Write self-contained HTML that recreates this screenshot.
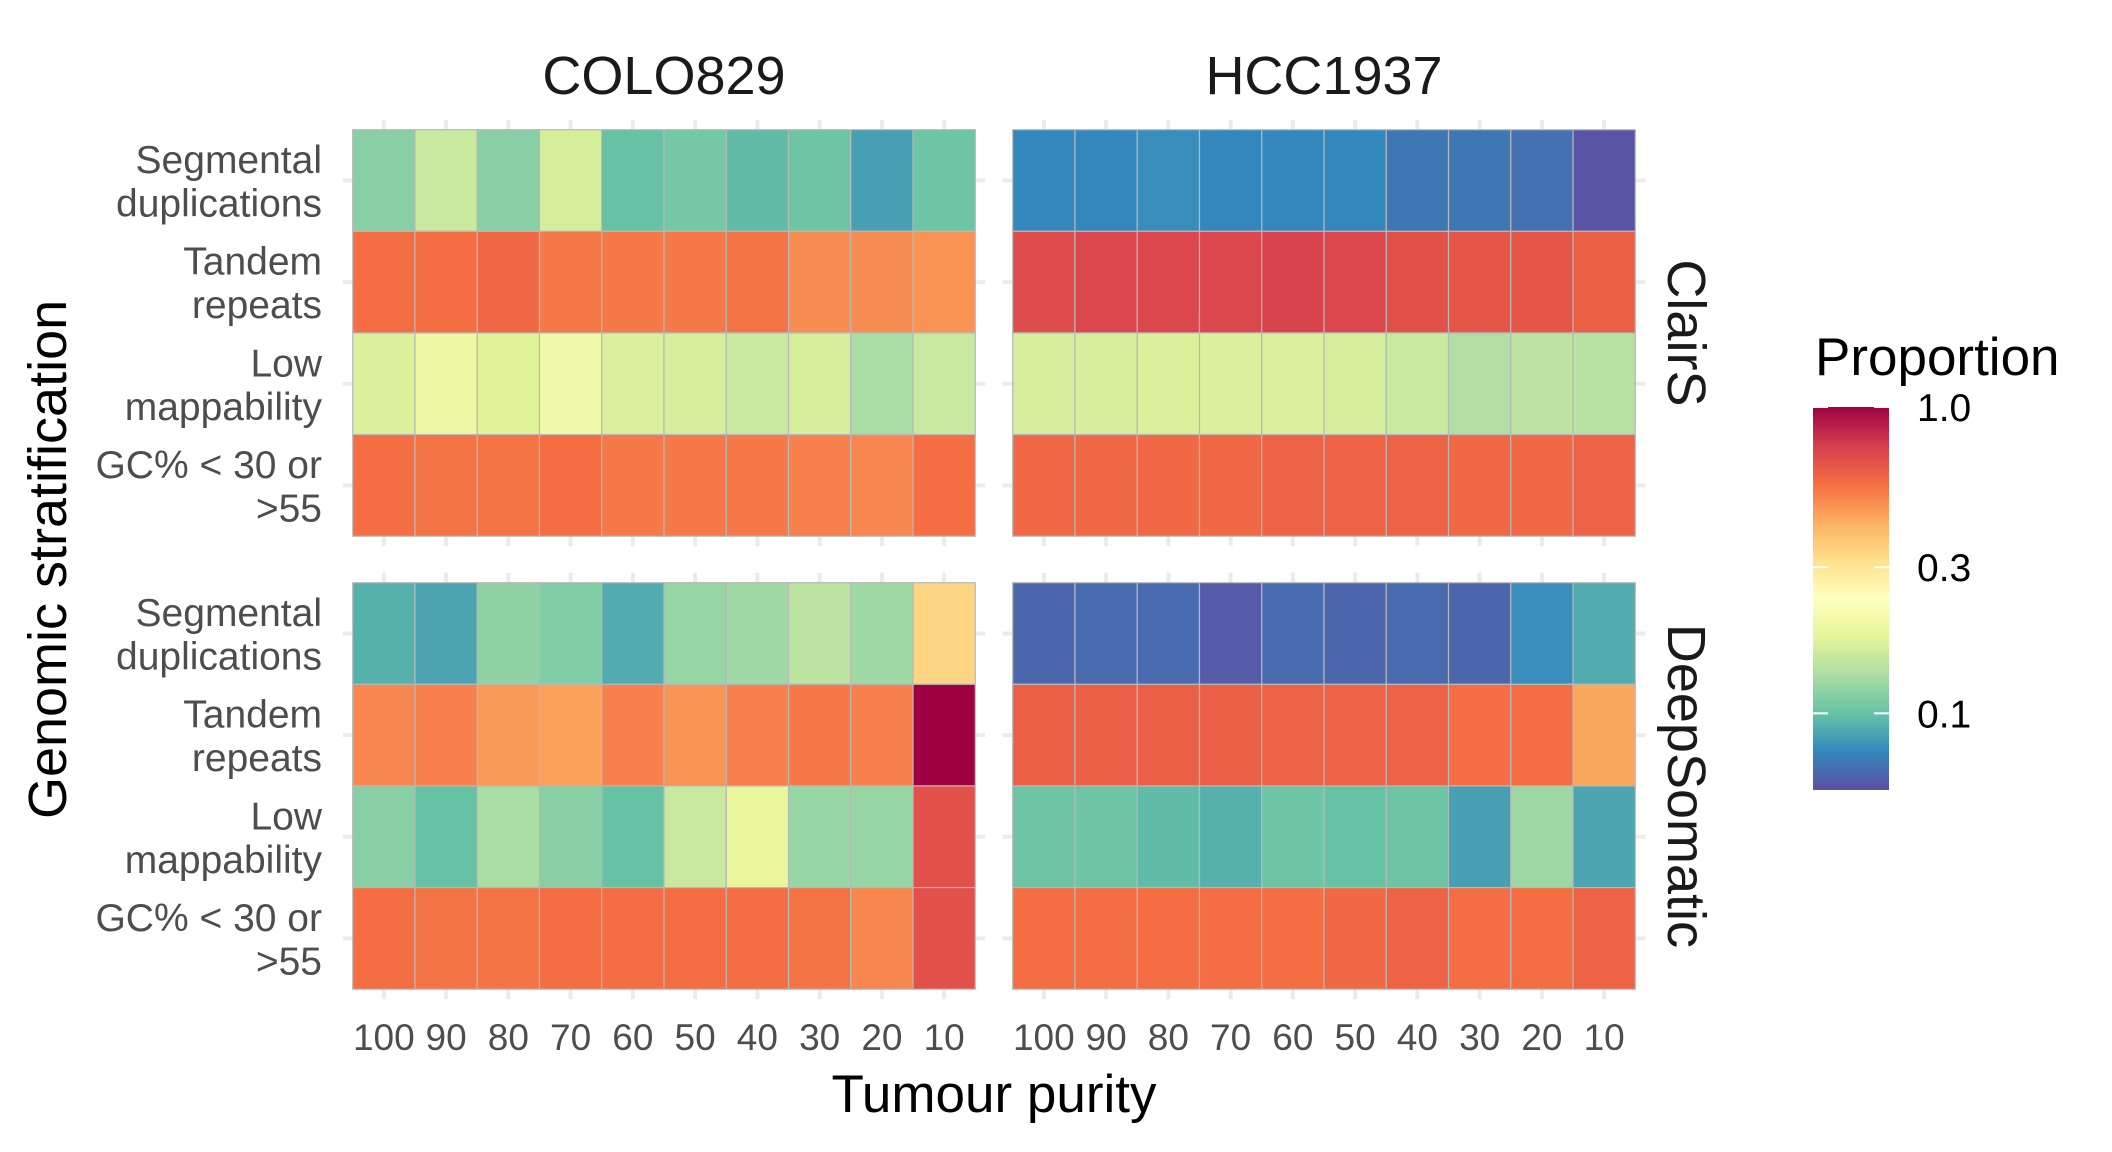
<!DOCTYPE html>
<html><head><meta charset="utf-8"><style>
html,body{margin:0;padding:0;background:#fff;}
svg{display:block;font-family:"Liberation Sans",sans-serif;}
</style></head><body>
<svg id="chart" width="2112" height="1152" viewBox="0 0 2112 1152" xmlns="http://www.w3.org/2000/svg">
<defs>
<linearGradient id="cbar" x1="0" y1="1" x2="0" y2="0">
<stop offset="0" stop-color="#5e4fa2"/><stop offset="0.1" stop-color="#3288bd"/><stop offset="0.2" stop-color="#66c2a5"/><stop offset="0.3" stop-color="#abdda4"/><stop offset="0.4" stop-color="#e6f598"/><stop offset="0.5" stop-color="#ffffbf"/><stop offset="0.6" stop-color="#fee08b"/><stop offset="0.7" stop-color="#fdae61"/><stop offset="0.8" stop-color="#f46d43"/><stop offset="0.9" stop-color="#d53e4f"/><stop offset="1" stop-color="#9e0142"/>
</linearGradient>
</defs>
<g id="marks"></g>
<g id="labels"></g>
</svg>
<script>
const purities = ["100","90","80","70","60","50","40","30","20","10"];
const strata = [["Segmental","duplications"],["Tandem","repeats"],["Low","mappability"],["GC% < 30 or",">55"]];
const samples = ["COLO829","HCC1937"];
const callers = ["ClairS","DeepSomatic"];
const legendTicks = [1.0, 0.3, 0.1];
const legendTickLabels = ["1.0","0.3","0.1"];
const scaleMin = 0.0562, scaleMax = 1.0;

// values: [stratum][purity]
const clairsColo = [
 [0.115,0.154,0.115,0.163,0.100,0.106,0.0972,0.103,0.0841,0.103],
 [0.562,0.562,0.579,0.531,0.531,0.531,0.546,0.487,0.487,0.473],
 [0.168,0.194,0.173,0.200,0.168,0.163,0.154,0.163,0.133,0.154],
 [0.562,0.546,0.546,0.562,0.531,0.531,0.531,0.516,0.501,0.562]
];
const clairsHcc = [
 [0.075,0.075,0.0772,0.075,0.075,0.075,0.0688,0.0688,0.0668,0.0579],
 [0.688,0.708,0.708,0.708,0.729,0.708,0.668,0.649,0.649,0.613],
 [0.163,0.163,0.168,0.168,0.168,0.163,0.154,0.137,0.145,0.141],
 [0.579,0.579,0.579,0.579,0.596,0.596,0.596,0.579,0.579,0.596]
];
const deepColo = [
 [0.0917,0.0866,0.119,0.112,0.0891,0.122,0.126,0.145,0.126,0.335],
 [0.501,0.516,0.460,0.447,0.516,0.473,0.516,0.531,0.516,1.0],
 [0.115,0.100,0.133,0.115,0.100,0.154,0.183,0.122,0.122,0.668],
 [0.562,0.546,0.546,0.562,0.562,0.562,0.562,0.546,0.501,0.668]
];
const deepHcc = [
 [0.0631,0.0649,0.0649,0.0596,0.0649,0.0631,0.0649,0.0631,0.0772,0.0891],
 [0.613,0.613,0.613,0.613,0.596,0.596,0.596,0.562,0.562,0.434],
 [0.103,0.103,0.0972,0.0917,0.103,0.100,0.103,0.0841,0.126,0.0866],
 [0.562,0.562,0.562,0.562,0.562,0.579,0.596,0.562,0.562,0.596]
];
const panelData = [[clairsColo, clairsHcc],[deepColo, deepHcc]];

const NS = "http://www.w3.org/2000/svg";
const marks = document.getElementById('marks');
const labels = document.getElementById('labels');
const stops = ["#5e4fa2","#3288bd","#66c2a5","#abdda4","#e6f598","#ffffbf","#fee08b","#fdae61","#f46d43","#d53e4f","#9e0142"];
function hex(h){return [parseInt(h.substr(1,2),16),parseInt(h.substr(3,2),16),parseInt(h.substr(5,2),16)];}
function tOf(v){const l0=Math.log10(scaleMin),l1=Math.log10(scaleMax);return Math.max(0,Math.min(1,(Math.log10(v)-l0)/(l1-l0)));}
function colorOf(v){const t=tOf(v)*10;const i=Math.min(9,Math.floor(t));const f=t-i;const a=hex(stops[i]),b=hex(stops[i+1]);
 return "rgb("+a.map((c,k)=>Math.round(c+(b[k]-c)*f)).join(",")+")";}
function mk(tag,attrs,parent){const e=document.createElementNS(NS,tag);for(const k in attrs)e.setAttribute(k,attrs[k]);parent.appendChild(e);return e;}

const panelX = [352.7, 1012.7], panelW = 622.6;
const panelY = [129.7, 582.7], panelH = 406.5;
const colW = panelW/purities.length, rowH = panelH/strata.length;
function xPos(p,i){return panelX[p]+i*colW;}
function yPos(r,j){return panelY[r]+j*rowH;}

for(let r=0;r<2;r++)for(let p=0;p<2;p++){
  // ticks
  for(let i=0;i<purities.length;i++){
    const cx=xPos(p,i)+colW/2;
    const t1=mk('line',{x1:cx,x2:cx,y1:panelY[r]-10,y2:panelY[r],stroke:'#ebebeb','stroke-width':4},marks);
    
    
    const t2=mk('line',{x1:cx,x2:cx,y1:panelY[r]+panelH,y2:panelY[r]+panelH+10,stroke:'#ebebeb','stroke-width':4},marks);
    
    
  }
  for(let j=0;j<strata.length;j++){
    const cy=yPos(r,j)+rowH/2;
    const t1=mk('line',{x1:panelX[p]-10,x2:panelX[p],y1:cy,y2:cy,stroke:'#ebebeb','stroke-width':4},marks);
    
    
    const t2=mk('line',{x1:panelX[p]+panelW,x2:panelX[p]+panelW+10,y1:cy,y2:cy,stroke:'#ebebeb','stroke-width':4},marks);
    
    
  }
  const d=panelData[r][p];
  for(let j=0;j<strata.length;j++)for(let i=0;i<purities.length;i++){
    const c=mk('rect',{x:xPos(p,i),y:yPos(r,j),width:colW,height:rowH,fill:colorOf(d[j][i]),stroke:'#b8b8b8','stroke-width':1.2},marks);
    
    
  }
}
// y labels
for(let r=0;r<2;r++)for(let j=0;j<strata.length;j++){
  const cy=yPos(r,j)+rowH/2;
  const t=mk('text',{x:322,y:cy-7.5,'text-anchor':'end','font-size':39,fill:'#4d4d4d'},labels);
  
  
  mk('tspan',{x:322},t).textContent=strata[j][0];
  mk('tspan',{x:322,dy:43.5},t).textContent=strata[j][1];
}
// x labels
for(let p=0;p<2;p++)for(let i=0;i<purities.length;i++){
  const t=mk('text',{x:xPos(p,i)+colW/2,y:1050,'text-anchor':'middle','font-size':37,fill:'#4d4d4d'},labels);
  
  
  t.textContent=purities[i];
}
// strip titles
for(let p=0;p<2;p++){
  const t=mk('text',{x:panelX[p]+panelW/2,y:94,'text-anchor':'middle','font-size':54,fill:'#1a1a1a'},labels);
  
  
  t.textContent=samples[p];
}
for(let r=0;r<2;r++){
  const cy=panelY[r]+panelH/2;
  const t=mk('text',{x:0,y:0,'text-anchor':'middle','dominant-baseline':'central','font-size':54,fill:'#1a1a1a',transform:'translate(1686,'+cy+') rotate(90)'},labels);
  
  
  t.textContent=callers[r];
}
// axis titles
{
  const t=mk('text',{x:(panelX[0]+panelX[1]+panelW)/2,y:1112,'text-anchor':'middle','font-size':53,fill:'#000'},labels);
  
  
  t.textContent='Tumour purity';
  const y=mk('text',{x:0,y:0,'text-anchor':'middle','dominant-baseline':'central','font-size':54,fill:'#000',transform:'translate(48,'+((panelY[0]+panelY[1]+panelH)/2)+') rotate(-90)'},labels);
  
  
  y.textContent='Genomic stratification';
}
// legend
{
  const lt=mk('text',{x:1815,y:375,'font-size':53,fill:'#000'},labels);
  
  
  lt.textContent='Proportion';
  const bx=1813,bw=76,by=407,bh=383;
  const bar=mk('rect',{x:bx,y:by,width:bw,height:bh,fill:'url(#cbar)'},labels);
  
  
  for(let k=0;k<legendTicks.length;k++){
    const yy=by+bh*(1-tOf(legendTicks[k]));
    mk('line',{x1:bx,x2:bx+15,y1:yy,y2:yy,stroke:'#fff','stroke-width':2},labels);
    mk('line',{x1:bx+bw-15,x2:bx+bw,y1:yy,y2:yy,stroke:'#fff','stroke-width':2},labels);
    const tl=mk('text',{x:1917,y:yy+14,'font-size':39,fill:'#000'},labels);
    
    
    tl.textContent=legendTickLabels[k];
  }
}
</script>
</body></html>
